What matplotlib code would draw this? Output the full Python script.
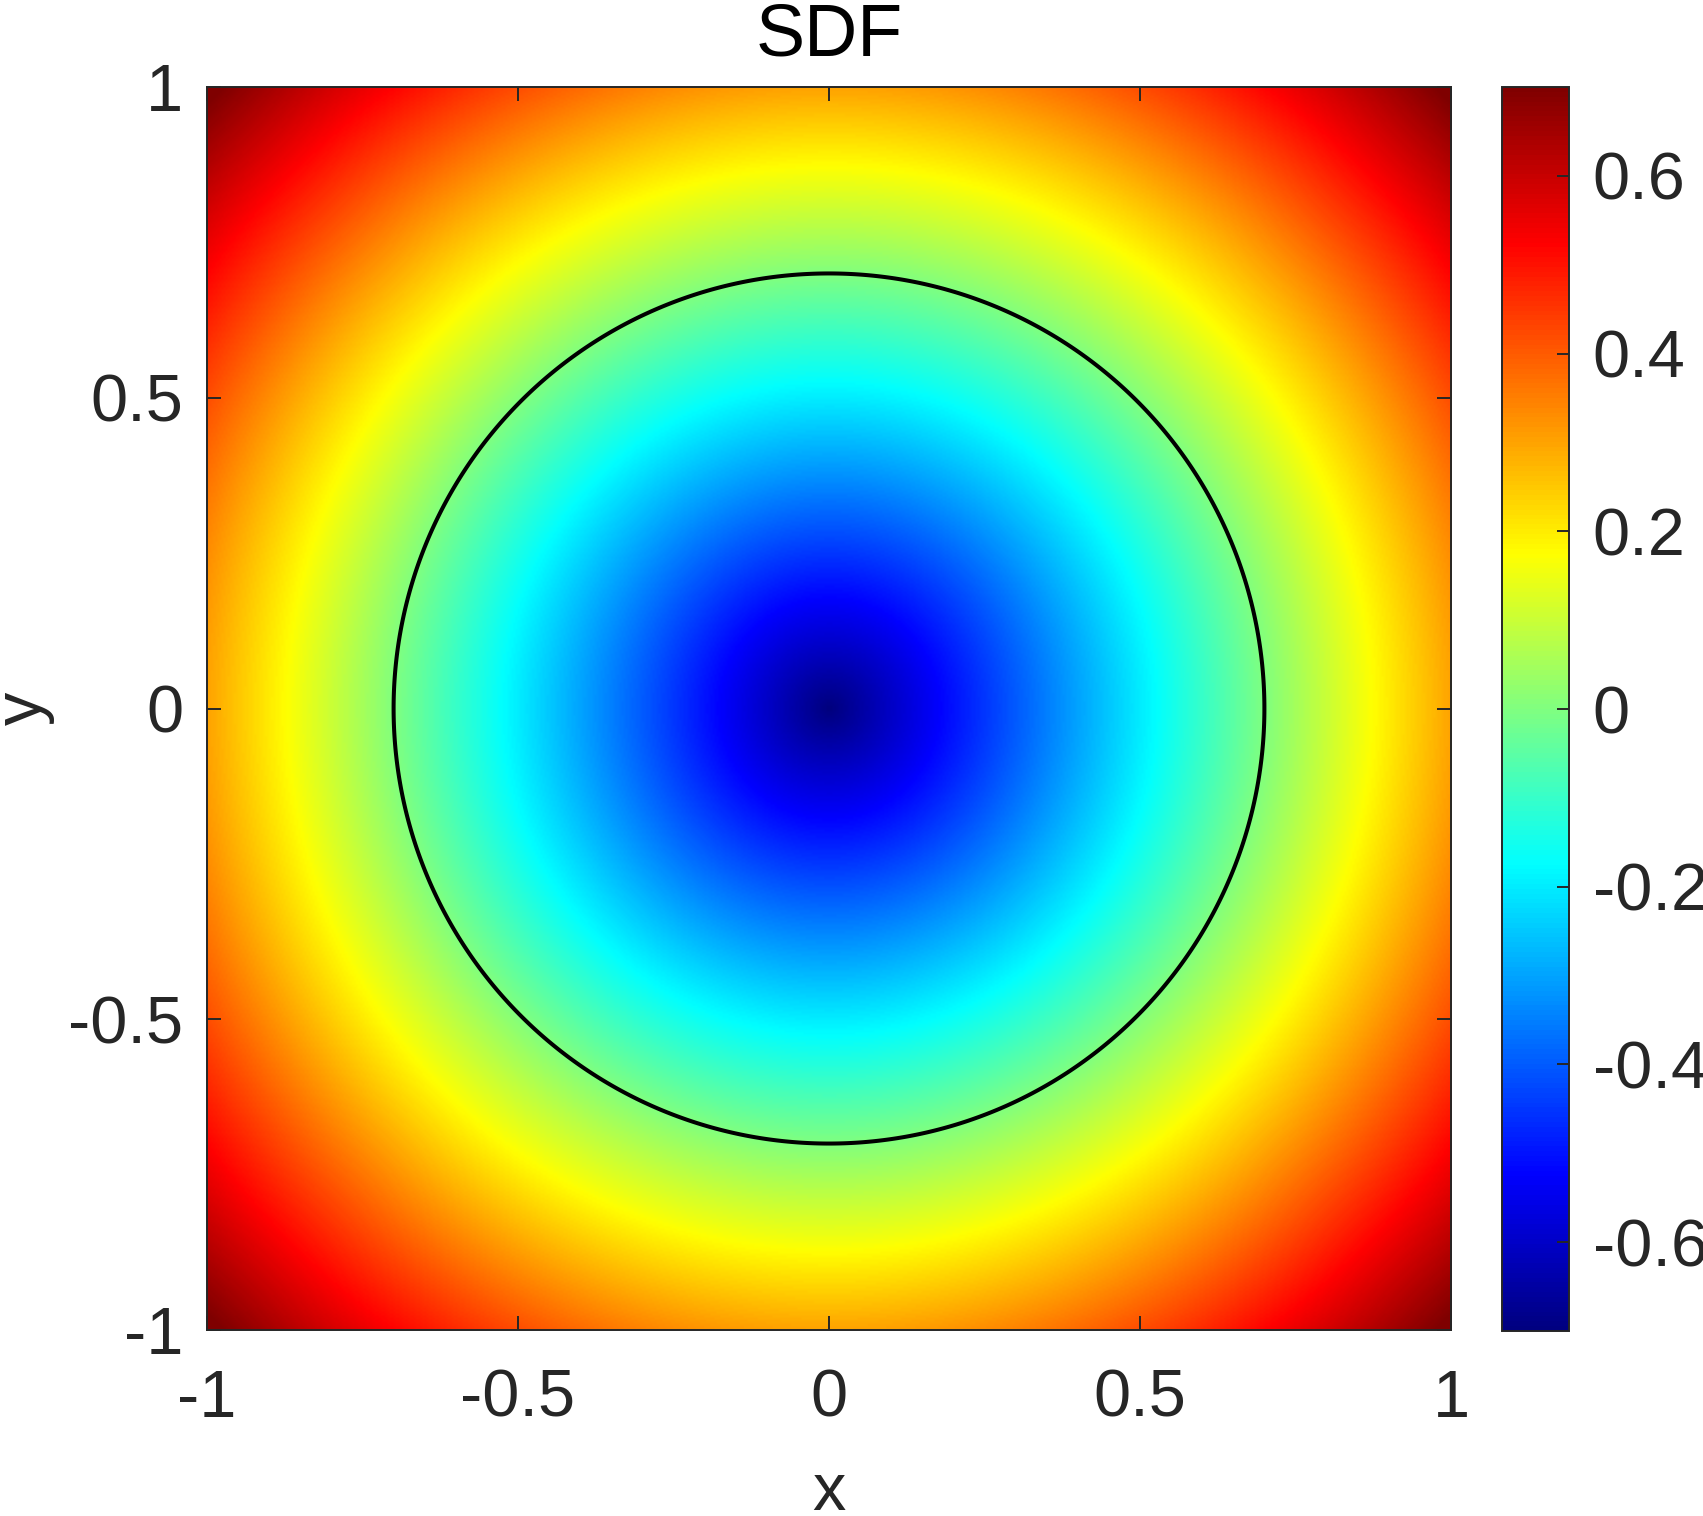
import numpy as np
import matplotlib
matplotlib.use("Agg")
import matplotlib.pyplot as plt
from matplotlib.colors import LinearSegmentedColormap

plt.rcParams['font.family'] = ['Liberation Sans', 'DejaVu Sans']
plt.rcParams['axes.unicode_minus'] = False

# domain and circle describing the signed distance field
x_range = [-1.0, 1.0]
y_range = [-1.0, 1.0]
radius = 0.7
n_points = 601

# axis ticks
xticks = [-1, -0.5, 0, 0.5, 1]
xtick_labels = ['-1', '-0.5', '0', '0.5', '1']
yticks = [-1, -0.5, 0, 0.5, 1]
ytick_labels = ['-1', '-0.5', '0', '0.5', '1']
cticks = [-0.6, -0.4, -0.2, 0, 0.2, 0.4, 0.6]
ctick_labels = ['-0.6', '-0.4', '-0.2', '0', '0.2', '0.4', '0.6']
clim = [-0.7, 0.7]

dark = '#262626'
fs = 48

# MATLAB-style jet (breakpoints at multiples of 1/8)
matlab_jet = LinearSegmentedColormap('matlab_jet', {
    'red': [(0, 0, 0), (3 / 8, 0, 0), (5 / 8, 1, 1), (7 / 8, 1, 1), (1, 0.5, 0.5)],
    'green': [(0, 0, 0), (1 / 8, 0, 0), (3 / 8, 1, 1), (5 / 8, 1, 1), (7 / 8, 0, 0), (1, 0, 0)],
    'blue': [(0, 0.5, 0.5), (1 / 8, 1, 1), (3 / 8, 1, 1), (5 / 8, 0, 0), (1, 0, 0)],
}, N=256)

xs = np.linspace(x_range[0], x_range[1], n_points)
ys = np.linspace(y_range[0], y_range[1], n_points)
X, Y = np.meshgrid(xs, ys)
sdf = np.sqrt(X ** 2 + Y ** 2) - radius

fig = plt.figure(figsize=(17.03, 15.16), dpi=100)
ax = fig.add_axes([207 / 1703, 1 - 1330 / 1516, 1244 / 1703, 1243 / 1516])
cax = fig.add_axes([1502 / 1703, 1 - 1331 / 1516, 67 / 1703, 1244 / 1516])

im = ax.imshow(sdf, extent=[x_range[0], x_range[1], y_range[0], y_range[1]],
               origin='lower', cmap=matlab_jet, vmin=clim[0], vmax=clim[1],
               aspect='auto', interpolation='bilinear')
ax.contour(X, Y, sdf, levels=[0], colors='black', linewidths=2.9)

ax.set_xlim(x_range)
ax.set_ylim(y_range)
ax.set_xticks(xticks)
ax.set_xticklabels(xtick_labels)
ax.set_yticks(yticks)
ax.set_yticklabels(ytick_labels)
ax.tick_params(axis='both', direction='in', length=10, width=1.4, color=dark,
               labelcolor=dark, labelsize=fs, top=True, right=True)
ax.tick_params(axis='y', pad=17)
ax.tick_params(axis='x', pad=28)
for s in ax.spines.values():
    s.set_color(dark)
    s.set_linewidth(1.4)

ax.set_title('SDF', fontsize=53, color='black', pad=23)
ax.set_xlabel('x', fontsize=fs, color=dark)
ax.set_ylabel('y', fontsize=fs, color=dark)
ax.xaxis.set_label_coords(0.5, -0.106)
ax.yaxis.set_label_coords(-0.122, 0.5)

cb = fig.colorbar(im, cax=cax, ticks=cticks)
cb.ax.set_yticklabels(ctick_labels)
cb.ax.tick_params(direction='in', length=8.6, width=1.4, color=dark,
                  labelcolor=dark, labelsize=fs, pad=17)
cb.outline.set_edgecolor(dark)
cb.outline.set_linewidth(1.4)

fig.savefig('out.png', dpi=100)
